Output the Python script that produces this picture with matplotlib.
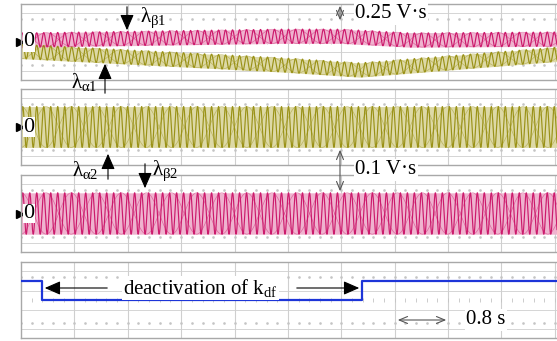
import numpy as np
import matplotlib
matplotlib.use("Agg")
import matplotlib.pyplot as plt

plt.rcParams["font.family"] = ["Liberation Serif", "DejaVu Serif"]
plt.rcParams["mathtext.fontset"] = "custom"
plt.rcParams["mathtext.rm"] = "Liberation Serif"
plt.rcParams["mathtext.it"] = "Liberation Serif"

W, H = 557, 341
XMAX = 10.04          # 10 divisions + the bit cut off at the right edge

# panel extents in pixels (top, bottom)
panel_px = [(4, 80), (89, 165), (175, 252), (262, 338)]

# top panel: slow drift of the two flux-linkage bands (x, y in divisions)
beta1_x = [0.0, 4.85, 6.0, 7.3, 10.04]
beta1_c = [0.2, 0.6, 0.6, 0.2, 0.3]
alpha1_x = [0.0, 4.85, 6.35, 10.04]
alpha1_c = [-1.0, -2.4, -2.95, -1.3]
amp1 = 0.75

# middle panels: steady oscillation
amp_alpha2 = 2.15
amp_beta2 = 2.15

# carrier period and beat (X pattern) period, in divisions
carrier_period = 0.131
beat_period = 0.94

# bottom panel: k_df enable signal
step_x = [0.0, 0.39, 0.39, 6.39, 6.39, XMAX]
step_y = [2, 2, 0, 0, 2, 2]

MAG, MAG_L = "#cc1a6c", "#efb3cf"
YEL, YEL_L = "#9a9218", "#ddd9a6"
BLUE = "#1d35d8"
GRID = "#cfcfcf"
BORDER = "#a8a8a8"

t = np.linspace(0, XMAX, 4000)
carrier = np.sin(2 * np.pi * t / carrier_period)
beat = np.cos(2 * np.pi * t / beat_period)


def scope_grid(ax):
    for xv in range(1, 11):
        ax.axvline(xv, color=GRID, lw=0.8, zorder=0)
    for yv in (-3.1, -1.0, 1.0, 3.1):
        ax.axhline(yv, color=GRID, lw=0.6, zorder=0)
    dots = np.arange(0, XMAX, 0.2)
    for yv in (-2.4, 2.4):
        ax.plot(dots, np.full_like(dots, yv), ls="none", marker="s",
                ms=0.8, color="#c4c4c4", zorder=0)
    ax.plot(dots, np.zeros_like(dots), ls="none", marker="|",
            ms=2.5, mew=0.6, color="#c4c4c4", zorder=0)
    ax.set_xlim(0, XMAX)
    ax.set_ylim(-4, 4)
    ax.set_xticks([]); ax.set_yticks([])
    for s in ("left", "top", "bottom"):
        ax.spines[s].set_color(BORDER)
        ax.spines[s].set_linewidth(1.0)
    ax.spines["right"].set_visible(False)


def band(ax, centre, amp, col, col_l):
    ax.fill_between(t, centre - amp, centre + amp, color=col_l, lw=0, zorder=1)
    ax.plot(t, centre + amp * beat, color=col, lw=0.5, alpha=0.5, zorder=2)
    ax.plot(t, centre - amp * beat, color=col, lw=0.5, alpha=0.5, zorder=2)
    ax.plot(t, centre + amp * carrier, color=col, lw=0.85, zorder=2)


fig = plt.figure(figsize=(W / 100, H / 100), dpi=100)
axes = []
for top, bot in panel_px:
    ax = fig.add_axes([21 / W, 1 - bot / H, (W - 21) / W, (bot - top) / H])
    scope_grid(ax)
    axes.append(ax)

ax1, ax2, ax3, ax4 = axes
band(ax1, np.interp(t, alpha1_x, alpha1_c), amp1, YEL, YEL_L)
band(ax1, np.interp(t, beta1_x, beta1_c), amp1, MAG, MAG_L)
band(ax2, np.zeros_like(t), amp_alpha2, YEL, YEL_L)
band(ax3, np.zeros_like(t), amp_beta2, MAG, MAG_L)
ax4.plot(step_x, step_y, color=BLUE, lw=1.6, zorder=3)

# zero markers
for ax in (ax1, ax2, ax3):
    ax.text(0.04, 0, "0", fontsize=16, va="center", ha="left", zorder=5,
            bbox=dict(facecolor="white", edgecolor="none", pad=0.3))
    ax.plot([-0.02], [0], marker=">", ms=6, color="black", clip_on=False)

# overlay in pixel coordinates for the annotations
ov = fig.add_axes([0, 0, 1, 1], zorder=10)
ov.set_xlim(0, W); ov.set_ylim(H, 0); ov.axis("off")

solid = dict(arrowstyle="-|>,head_width=0.35,head_length=0.8",
             color="black", lw=0.8, mutation_scale=12)
ov.annotate("", xy=(127, 33), xytext=(127, 4), arrowprops=solid)
ov.text(140, 18, r"$\lambda_{\beta1}$", fontsize=15, va="center")
ov.annotate("", xy=(105, 61), xytext=(105, 96), arrowprops=solid)
ov.text(71, 82, r"$\lambda_{\alpha1}$", fontsize=15, va="center")
ov.annotate("", xy=(108, 151), xytext=(108, 182), arrowprops=solid)
ov.text(72, 170, r"$\lambda_{\alpha2}$", fontsize=15, va="center")
ov.annotate("", xy=(145, 191), xytext=(145, 161), arrowprops=solid)
ov.text(152, 171, r"$\lambda_{\beta2}$", fontsize=15, va="center")

thin = dict(arrowstyle="<->,head_width=0.25,head_length=0.6",
            color="#555555", lw=0.8, mutation_scale=10)
ov.annotate("", xy=(340, 3), xytext=(340, 23), arrowprops=thin)
ov.text(355, 14, "0.25 V·s", fontsize=15, va="center",
        bbox=dict(facecolor="white", edgecolor="none", pad=1))
ov.annotate("", xy=(340, 147), xytext=(340, 194), arrowprops=thin)
ov.text(355, 170, "0.1 V·s", fontsize=15, va="center",
        bbox=dict(facecolor="white", edgecolor="none", pad=1))

ov.annotate("", xy=(42, 288), xytext=(110, 288), arrowprops=solid)
ov.annotate("", xy=(362, 288), xytext=(294, 288), arrowprops=solid)
ov.text(123, 288, r"deactivation of k$_{\mathrm{df}}$", fontsize=15,
        va="center", bbox=dict(facecolor="white", edgecolor="none", pad=1))
ov.annotate("", xy=(395, 320), xytext=(449, 320), arrowprops=thin)
ov.text(466, 320, "0.8 s", fontsize=15, va="center",
        bbox=dict(facecolor="white", edgecolor="none", pad=1))

fig.savefig("out.png", dpi=100)
